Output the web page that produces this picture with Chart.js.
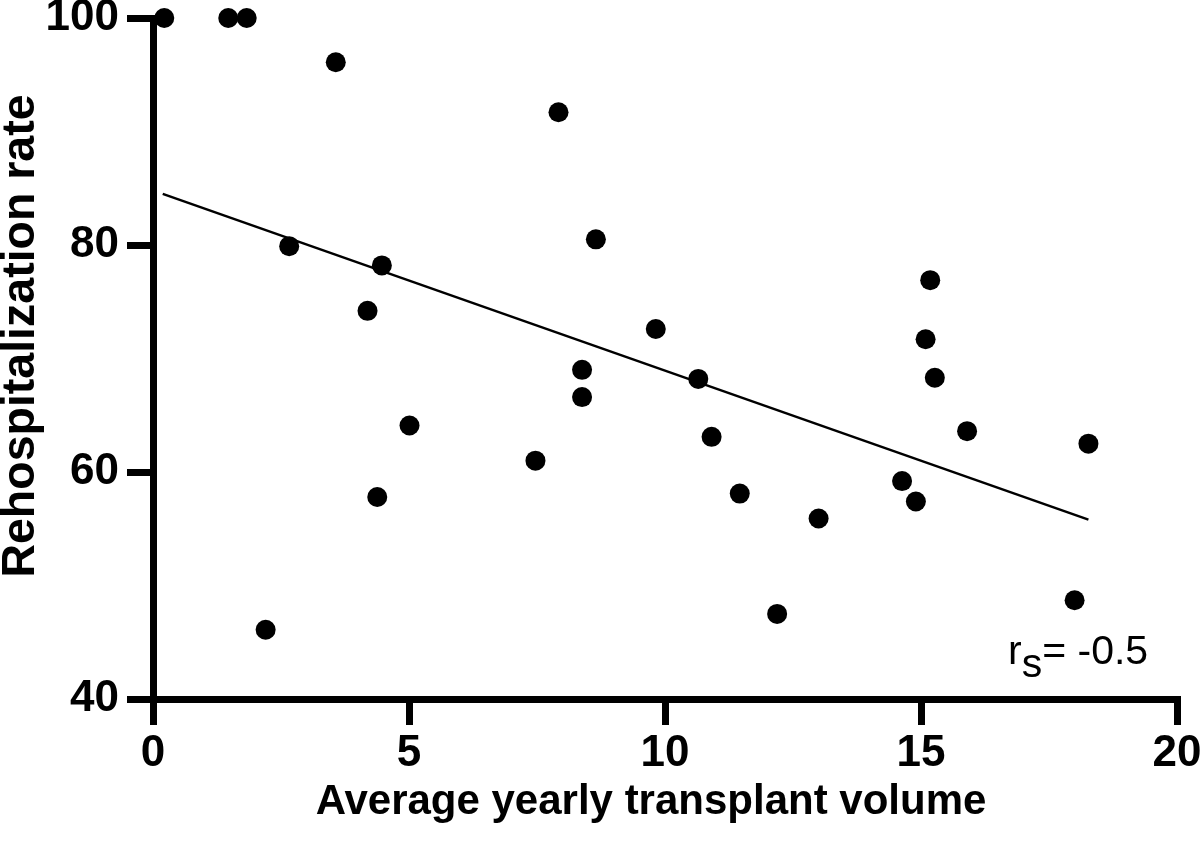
<!DOCTYPE html>
<html>
<head>
<meta charset="utf-8">
<script src="https://cdn.jsdelivr.net/npm/chart.js@4/dist/chart.umd.min.js"></script>
<style>
  html, body { margin: 0; padding: 0; background: #fff; }
</style>
</head>
<body>
<canvas id="chart" width="1200" height="851"></canvas>
<script>
// values (one entry per centre)
const volume = [0.22, 1.47, 1.83, 3.57, 2.66, 4.47, 7.92, 8.65, 4.19, 5.01,
                4.38, 2.20, 9.82, 8.38, 8.38, 10.65, 10.91, 7.47, 11.46, 13.0,
                12.19, 15.18, 15.09, 15.27, 15.90, 18.27, 14.63, 14.90, 18.0];
const rehospRate = [100, 100, 100, 96.1, 79.9, 78.2, 91.7, 80.5, 74.2, 64.1,
                    57.8, 46.1, 72.6, 69.0, 66.6, 68.2, 63.1, 61.0, 58.1, 55.9,
                    47.5, 76.9, 71.7, 68.3, 63.6, 62.5, 59.2, 57.4, 48.7];

// regression line end points
const fitVolume = [0.19, 18.27];
const fitRate = [84.5, 55.8];

const xTicks = [0, 5, 10, 15, 20];
const yTicks = [40, 60, 80, 100];

const xTitle = "Average yearly transplant volume";
const yTitle = "Rehospitalization rate";
const corrMain = "r";
const corrSub = "s";
const corrValue = "= -0.5";

const FONT = "'Liberation Sans', Arial, Helvetica, sans-serif";

// axis titles and the r_s note are drawn by hand so they sit where the original has them
const textPlugin = {
  id: "texts",
  afterDraw(chart) {
    const ctx = chart.ctx;
    ctx.save();
    ctx.fillStyle = "#000";
    ctx.textBaseline = "middle";
    ctx.textAlign = "center";

    ctx.font = "bold 42px " + FONT;
    ctx.fillText(xTitle, 651, 802);

    ctx.save();
    ctx.translate(21, 336);
    ctx.rotate(-Math.PI / 2);
    ctx.font = "bold 46.5px " + FONT;
    ctx.fillText(yTitle, 0, 0);
    ctx.restore();

    // r_s= -0.5
    ctx.textAlign = "left";
    ctx.textBaseline = "alphabetic";
    ctx.font = "41px " + FONT;
    let x = 1008;
    const base = 664;
    ctx.fillText(corrMain, x, base);
    x += ctx.measureText(corrMain).width;
    ctx.fillText(corrSub, x, base + 13);
    x += ctx.measureText(corrSub).width;
    ctx.fillText(corrValue, x, base);
    ctx.restore();
  }
};

const axisBits = {
  border: { display: true, color: "#000", width: 7 },
  grid: { display: true, drawOnChartArea: false, drawTicks: true, tickLength: 26, lineWidth: 7, color: "#000" }
};

new Chart(document.getElementById("chart").getContext("2d"), {
  type: "scatter",
  data: {
    datasets: [
      {
        type: "line",
        data: fitVolume.map((v, i) => ({ x: v, y: fitRate[i] })),
        borderColor: "#000",
        borderWidth: 2.5,
        pointRadius: 0,
        fill: false,
        order: 2
      },
      {
        data: volume.map((v, i) => ({ x: v, y: rehospRate[i] })),
        backgroundColor: "#000",
        borderColor: "#000",
        borderWidth: 0,
        pointRadius: 10,
        pointHoverRadius: 10,
        clip: false,
        order: 1
      }
    ]
  },
  options: {
    responsive: false,
    animation: false,
    devicePixelRatio: 1,
    layout: { padding: { top: 18, right: 23, left: 0, bottom: 0 } },
    plugins: { legend: { display: false }, tooltip: { enabled: false } },
    scales: {
      x: {
        type: "linear",
        position: "bottom",
        min: 0,
        max: 20,
        ...axisBits,
        ticks: { color: "#000", padding: 7, font: { family: FONT, weight: "bold", size: 44, lineHeight: 1 } },
        afterBuildTicks: (s) => { s.ticks = xTicks.map((v) => ({ value: v })); },
        afterFit: (s) => { s.height = 152; s.paddingLeft = 0; s.paddingRight = 0; }
      },
      y: {
        type: "linear",
        position: "left",
        min: 40,
        max: 100,
        ...axisBits,
        ticks: { color: "#000", padding: 8, font: { family: FONT, weight: "bold", size: 44, lineHeight: 1 } },
        afterBuildTicks: (s) => { s.ticks = yTicks.map((v) => ({ value: v })); },
        afterFit: (s) => { s.width = 153; s.paddingTop = 0; s.paddingBottom = 0; }
      }
    }
  },
  plugins: [textPlugin]
});
</script>
</body>
</html>
